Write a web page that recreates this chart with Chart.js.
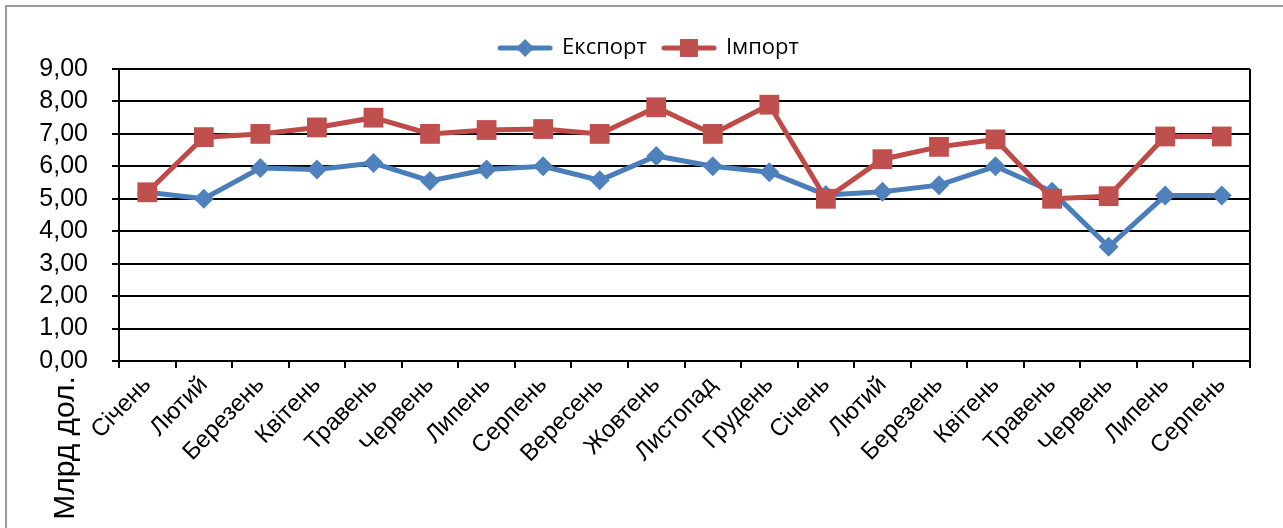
<!DOCTYPE html>
<html><head><meta charset="utf-8">
<script src="https://cdn.jsdelivr.net/npm/chart.js@4/dist/chart.umd.min.js"></script>
<style>html,body{margin:0;padding:0;background:#fff;} #wrap{position:relative;width:1283px;height:528px;}</style>
</head><body><div id="wrap"><canvas id="c" width="1283" height="528"></canvas></div>
<script>
const categories = ["Січень","Лютий","Березень","Квітень","Травень","Червень","Липень","Серпень","Вересень","Жовтень","Листопад","Грудень","Січень","Лютий","Березень","Квітень","Травень","Червень","Липень","Серпень"];
const exportValues = [5.2,5.0,5.95,5.9,6.1,5.55,5.9,6.0,5.57,6.32,6.0,5.82,5.12,5.22,5.42,6.0,5.22,3.52,5.1,5.1];
const importValues = [5.2,6.9,7.0,7.2,7.5,7.0,7.12,7.15,7.0,7.82,7.0,7.9,5.0,6.22,6.6,6.83,5.0,5.08,6.92,6.92];
const seriesNames = ["Експорт","Імпорт"];
const yTitle = "Млрд дол.";
const yMin = 0, yMax = 9, yStep = 1;

const blueLine = '#4A7EBB', blueFill = '#4F81BD';
const redLine = '#BE4B48', redFill = '#C0504D';

function legendIcon(lineColor, fillColor, shape){
  const cv = document.createElement('canvas');
  cv.width = 56; cv.height = 22;
  const g = cv.getContext('2d');
  g.strokeStyle = lineColor; g.lineWidth = 5; g.lineCap = 'round';
  g.beginPath(); g.moveTo(3,11); g.lineTo(53,11); g.stroke();
  g.fillStyle = fillColor;
  if (shape === 'diamond'){
    g.beginPath(); g.moveTo(28,2); g.lineTo(37,11); g.lineTo(28,20); g.lineTo(19,11); g.closePath(); g.fill();
  } else {
    g.fillRect(19,2,18,18);
  }
  return cv;
}
const icons = [legendIcon(blueLine, blueFill, 'diamond'), legendIcon(redLine, redFill, 'square')];

const decor = {
  id: 'decor',
  afterLayout(chart){
    if (chart.legend) { chart.legend.left += 24; chart.legend.right += 24; }
  },
  beforeDraw(chart){
    const ctx = chart.ctx;
    ctx.save();
    ctx.strokeStyle = '#9a9a9a'; ctx.lineWidth = 2;
    ctx.beginPath(); ctx.moveTo(6, 540); ctx.lineTo(6, 6); ctx.lineTo(1290, 6); ctx.stroke();
    ctx.restore();
  },
  afterDraw(chart){
    const ctx = chart.ctx;
    ctx.save();
    ctx.translate(66, 448);
    ctx.rotate(-Math.PI/2);
    ctx.font = '30px "Liberation Sans", Arial, sans-serif';
    ctx.textAlign = 'center'; ctx.textBaseline = 'middle'; ctx.fillStyle = '#000';
    ctx.fillText(yTitle, 0, 0);
    ctx.restore();
  }
};

new Chart(document.getElementById('c'), {
  type: 'line',
  data: {
    labels: categories,
    datasets: [
      { label: seriesNames[0], data: exportValues, borderColor: blueLine, backgroundColor: blueFill,
        borderWidth: 5, pointStyle: 'rectRot', pointRadius: 10, pointHoverRadius: 10,
        pointBackgroundColor: blueFill, pointBorderColor: blueFill, pointBorderWidth: 0, tension: 0, order: 1 },
      { label: seriesNames[1], data: importValues, borderColor: redLine, backgroundColor: redFill,
        borderWidth: 5, pointStyle: 'rect', pointRadius: 14, pointHoverRadius: 14,
        pointBackgroundColor: redFill, pointBorderColor: redFill, pointBorderWidth: 0, tension: 0, order: 0 }
    ]
  },
  options: {
    responsive: false, animation: false,
    layout: { padding: { top: 21, right: 33, bottom: 0, left: 0 } },
    plugins: {
      tooltip: { enabled: false },
      legend: {
        position: 'top',
        labels: {
          usePointStyle: true, pointStyleWidth: 52, padding: 16,
          font: { family: '"Open Sans", sans-serif', size: 22 }, color: '#000',
          sort: (a, b) => a.datasetIndex - b.datasetIndex,
          generateLabels(chart){
            const items = Chart.defaults.plugins.legend.labels.generateLabels(chart);
            items.forEach(it => { it.pointStyle = icons[it.datasetIndex]; it.rotation = 0; });
            return items;
          }
        }
      }
    },
    scales: {
      x: {
        type: 'category', offset: true,
        grid: { offset: true, drawOnChartArea: true, lineWidth: 2, tickLength: 7,
          color: c => c.tick ? 'rgba(0,0,0,0)' : '#000', tickColor: '#000' },
        border: { color: '#000', width: 2 },
        ticks: { autoSkip: false, minRotation: 46, maxRotation: 46, color: '#000',
          font: { family: '"Liberation Sans", Arial, sans-serif', size: 24 }, padding: 3 },
        afterFit: s => { s.height = 167; }
      },
      y: {
        min: yMin, max: yMax,
        ticks: { stepSize: yStep, autoSkip: false, color: '#000', padding: 24,
          font: { family: '"Liberation Sans", Arial, sans-serif', size: 25 },
          callback: v => Number(v).toFixed(2).replace('.', ',') },
        grid: { color: '#000', lineWidth: 2, tickLength: 7 },
        border: { color: '#000', width: 2 },
        afterFit: s => { s.width = 119; }
      }
    }
  },
  plugins: [decor]
});
</script></body></html>
